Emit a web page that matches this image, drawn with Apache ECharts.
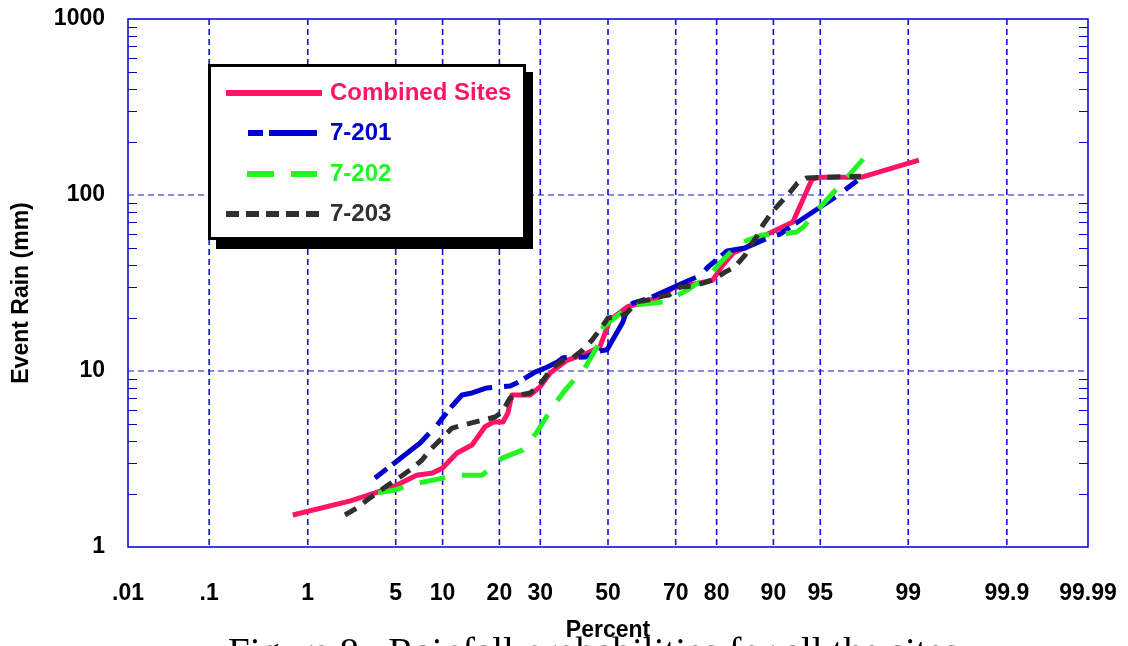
<!DOCTYPE html>
<html>
<head>
<meta charset="utf-8">
<script src="https://cdn.jsdelivr.net/npm/echarts@6/dist/echarts.min.js"></script>
<style>
  html, body { margin: 0; padding: 0; background: #ffffff; }
  #chart { width: 1128px; height: 646px; }
</style>
</head>
<body>
<div id="chart"></div>
<script>
// ---- Probability-axis ticks (percent) ----
const percentTicks = [0.01, 0.1, 1, 5, 10, 20, 30, 50, 70, 80, 90, 95, 99, 99.9, 99.99];
const percentTickLabels = ['.01', '.1', '1', '5', '10', '20', '30', '50', '70', '80', '90', '95', '99', '99.9', '99.99'];
const percentGridLines = [0.1, 1, 5, 10, 20, 30, 50, 70, 80, 90, 95, 99, 99.9];

// ---- Rain axis (log) ----
const rainMin = 1;
const rainMax = 1000;
const rainGridLines = [10, 100];
const rainMinorTicks = [2, 3, 4, 5, 6, 7, 8, 9, 20, 30, 40, 50, 60, 70, 80, 90, 200, 300, 400, 500, 600, 700, 800, 900];

// ---- Series: cumulative percent vs event rain (mm) ----
const combinedPct = [0.73, 2.3, 3.7, 5.1, 6.9, 8.7, 10.0, 12.1, 14.6, 17.0, 18.7, 20.8, 21.9, 22.8, 27.3, 29.9, 32.7, 37.5, 43.5, 47.5, 50.6, 55.9, 60.7, 65.6, 69.3, 76.2, 79.2, 81.3, 83.4, 85.9, 88.9, 92.4, 94.3, 95.0, 97.5, 99.2];
const combinedRain = [1.52, 1.83, 2.05, 2.25, 2.56, 2.63, 2.81, 3.42, 3.80, 4.81, 5.13, 5.13, 5.77, 7.31, 7.31, 8.11, 9.74, 11.5, 12.6, 13.7, 19.5, 23.1, 24.7, 26.3, 29.6, 31.6, 32.9, 40.0, 46.8, 50.7, 59.3, 70.3, 123, 126, 126, 158];

const site201Pct = [3.55, 4.42, 5.11, 7.27, 9.27, 11.35, 12.9, 14.6, 17.4, 22.4, 24.0, 28.6, 31.8, 34.6, 36.4, 42.9, 47.5, 49.7, 54.6, 56.2, 57.7, 62.8, 67.6, 73.7, 76.2, 78.1, 82.2, 85.6, 89.5, 90.9, 92.1, 96.2, 97.5];
const site201Rain = [2.47, 2.81, 3.08, 3.90, 4.93, 6.33, 7.31, 7.50, 8.01, 8.22, 8.55, 9.86, 10.5, 11.2, 11.9, 12.0, 13.0, 13.2, 19.0, 23.4, 24.3, 26.0, 28.8, 32.9, 34.7, 39.0, 48.1, 50.0, 57.7, 60.0, 65.8, 98.7, 125];

const site202Pct = [3.74, 4.95, 6.55, 9.40, 11.8, 16.5, 20.6, 25.5, 29.1, 33.2, 37.0, 42.9, 46.6, 48.5, 54.3, 57.7, 67.1, 73.0, 78.5, 81.1, 84.7, 88.4, 91.1, 92.8, 93.5, 95.0, 96.4, 97.6];
const site202Rain = [2.03, 2.11, 2.28, 2.43, 2.56, 2.56, 3.20, 3.56, 4.50, 6.16, 7.80, 10.4, 13.7, 17.8, 21.6, 23.7, 24.7, 28.8, 35.1, 42.2, 53.4, 59.3, 60.0, 61.6, 65.8, 85.5, 114, 160];

const site203Pct = [2.08, 2.60, 3.10, 3.7, 4.42, 5.36, 6.26, 7.48, 8.40, 9.93, 11.35, 13.1, 16.7, 19.1, 20.6, 22.4, 24.8, 27.3, 29.4, 31.8, 33.5, 36.4, 39.3, 42.3, 45.1, 48.1, 50.0, 53.1, 55.5, 58.9, 62.2, 64.8, 68.2, 71.2, 74.5, 76.9, 79.2, 81.8, 83.7, 85.6, 86.4, 87.6, 88.5, 89.8, 90.9, 92.1, 92.9, 93.8, 97.5];
const site203Rain = [1.52, 1.67, 1.85, 2.03, 2.25, 2.50, 2.74, 3.12, 3.56, 4.16, 4.74, 4.93, 5.27, 5.48, 5.85, 7.03, 7.31, 7.50, 8.11, 9.49, 10.5, 11.5, 11.9, 13.2, 15.0, 17.8, 20.0, 20.3, 21.1, 24.7, 25.3, 26.3, 27.0, 30.0, 30.4, 31.6, 32.9, 36.5, 39.0, 45.6, 50.7, 58.5, 67.5, 80.0, 90.1, 104, 117, 125, 128];

const seriesNames = ['Combined Sites', '7-201', '7-202', '7-203'];

// Inverse standard normal CDF (Acklam's rational approximation)
function probit(p) {
  const a = [-3.969683028665376e+01, 2.209460984245205e+02, -2.759285104469687e+02, 1.383577518672690e+02, -3.066479806614716e+01, 2.506628277459239e+00];
  const b = [-5.447609879822406e+01, 1.615858368580409e+02, -1.556989798598866e+02, 6.680131188771972e+01, -1.328068155288572e+01];
  const c = [-7.784894002430293e-03, -3.223964580411365e-01, -2.400758277161838e+00, -2.549732539343734e+00, 4.374664141464968e+00, 2.938163982698783e+00];
  const d = [7.784695709041462e-03, 3.224671290700398e-01, 2.445134137142996e+00, 3.754408661907416e+00];
  const pl = 0.02425, ph = 1 - pl;
  let q, r;
  if (p < pl) {
    q = Math.sqrt(-2 * Math.log(p));
    return (((((c[0] * q + c[1]) * q + c[2]) * q + c[3]) * q + c[4]) * q + c[5]) / ((((d[0] * q + d[1]) * q + d[2]) * q + d[3]) * q + 1);
  }
  if (p <= ph) {
    q = p - 0.5; r = q * q;
    return (((((a[0] * r + a[1]) * r + a[2]) * r + a[3]) * r + a[4]) * r + a[5]) * q / (((((b[0] * r + b[1]) * r + b[2]) * r + b[3]) * r + b[4]) * r + 1);
  }
  q = Math.sqrt(-2 * Math.log(1 - p));
  return -(((((c[0] * q + c[1]) * q + c[2]) * q + c[3]) * q + c[4]) * q + c[5]) / ((((d[0] * q + d[1]) * q + d[2]) * q + d[3]) * q + 1);
}
const pctToZ = pct => probit(pct / 100);
const tickZ = percentTicks.map(pctToZ);
const zMin = tickZ[0];
const zMax = tickZ[tickZ.length - 1];

const pairs = (pcts, rains) => pcts.map((p, i) => [pctToZ(p), rains[i]]);

const AXIS_BLUE = '#0000cc';
const GRID_BLUE = '#1010e0';
const FONT = "'Liberation Sans', Arial, sans-serif";
const COLORS = ['#ff1466', '#0000cc', '#22f522', '#303030'];

const chart = echarts.init(document.getElementById('chart'), null, { renderer: 'canvas' });

const yAxisBase = {
  type: 'log',
  logBase: 10,
  min: rainMin,
  max: rainMax,
  axisLine: { show: false, onZero: false },
  splitLine: { show: false },
  axisTick: {
    show: true,
    inside: true,
    length: 9,
    customValues: rainMinorTicks,
    lineStyle: { color: AXIS_BLUE, width: 1 }
  }
};

chart.setOption({
  animation: false,
  backgroundColor: '#ffffff',
  grid: {
    left: 128, right: 40, top: 19, bottom: 99,
    show: true,
    borderColor: AXIS_BLUE,
    borderWidth: 1.5,
    backgroundColor: 'transparent',
    outerBoundsMode: 'none'
  },
  xAxis: {
    type: 'value',
    min: zMin,
    max: zMax,
    axisLine: { show: false, onZero: false },
    axisTick: { show: false },
    splitLine: { show: false },
    axisLabel: {
      customValues: tickZ,
      margin: 35,
      fontSize: 23,
      fontWeight: 'bold',
      fontFamily: FONT,
      color: '#000000',
      formatter: v => {
        let best = 0;
        tickZ.forEach((z, i) => { if (Math.abs(z - v) < Math.abs(tickZ[best] - v)) best = i; });
        return percentTickLabels[best];
      }
    }
  },
  yAxis: [
    Object.assign({}, yAxisBase, {
      position: 'left',
      axisLabel: {
        show: true,
        margin: 23,
        fontSize: 23,
        fontWeight: 'bold',
        fontFamily: FONT,
        color: '#000000',
        formatter: v => String(Math.round(v))
      }
    }),
    Object.assign({}, yAxisBase, {
      position: 'right',
      axisLabel: { show: false }
    })
  ],
  series: [
    {
      // vertical dashed grid lines at the probability ticks
      name: 'grid-v',
      type: 'custom',
      silent: true,
      z: 1,
      clip: false,
      data: percentGridLines.map(p => [pctToZ(p), rainMin]),
      renderItem: (params, api) => {
        const top = api.coord([api.value(0), rainMax]);
        const bottom = api.coord([api.value(0), rainMin]);
        return {
          type: 'line',
          shape: { x1: top[0], y1: top[1], x2: top[0], y2: bottom[1] },
          style: { stroke: GRID_BLUE, lineWidth: 1.6, lineDash: [6, 4] }
        };
      }
    },
    {
      // horizontal dashed grid lines at the decades
      name: 'grid-h',
      type: 'custom',
      silent: true,
      z: 1,
      clip: false,
      data: rainGridLines.map(v => [0, v]),
      renderItem: (params, api) => {
        const left = api.coord([zMin, api.value(1)]);
        const right = api.coord([zMax, api.value(1)]);
        const y = left[1];
        return {
          type: 'line',
          shape: { x1: left[0], y1: y, x2: right[0], y2: y },
          style: { stroke: GRID_BLUE, opacity: 0.65, lineWidth: 1.5, lineDash: [6, 4] }
        };
      }
    },
    {
      name: seriesNames[0], type: 'line', z: 3,
      data: pairs(combinedPct, combinedRain),
      showSymbol: false, symbol: 'none',
      lineStyle: { color: COLORS[0], width: 5, type: 'solid', join: 'round' }
    },
    {
      name: seriesNames[1], type: 'line', z: 4,
      data: pairs(site201Pct, site201Rain),
      showSymbol: false, symbol: 'none',
      lineStyle: { color: COLORS[1], width: 5, type: [15, 7, 48, 12], join: 'round' }
    },
    {
      name: seriesNames[2], type: 'line', z: 5,
      data: pairs(site202Pct, site202Rain),
      showSymbol: false, symbol: 'none',
      lineStyle: { color: COLORS[2], width: 5, type: [26, 17], join: 'round' }
    },
    {
      name: seriesNames[3], type: 'line', z: 6,
      data: pairs(site203Pct, site203Rain),
      showSymbol: false, symbol: 'none',
      lineStyle: { color: COLORS[3], width: 5, type: [13, 9], join: 'round' }
    }
  ],
  graphic: [
    // legend box with drop shadow
    { type: 'rect', z: 100, shape: { x: 216, y: 72, width: 317, height: 177 }, style: { fill: '#000000' } },
    { type: 'rect', z: 101, shape: { x: 209.5, y: 65.5, width: 315, height: 173 }, style: { fill: '#ffffff', stroke: '#000000', lineWidth: 3 } },
    { type: 'line', z: 102, shape: { x1: 226, y1: 93, x2: 322, y2: 93 }, style: { stroke: COLORS[0], lineWidth: 6 } },
    { type: 'line', z: 102, shape: { x1: 248, y1: 133, x2: 317, y2: 133 }, style: { stroke: COLORS[1], lineWidth: 6, lineDash: [15, 6, 48, 6] } },
    { type: 'line', z: 102, shape: { x1: 247, y1: 174, x2: 317, y2: 174 }, style: { stroke: COLORS[2], lineWidth: 6, lineDash: [27, 17] } },
    { type: 'line', z: 102, shape: { x1: 226, y1: 214, x2: 322, y2: 214 }, style: { stroke: COLORS[3], lineWidth: 6, lineDash: [13, 7] } },
    { type: 'text', z: 102, style: { x: 330, y: 93, text: seriesNames[0], fill: COLORS[0], font: "bold 24px " + FONT, verticalAlign: 'middle' } },
    { type: 'text', z: 102, style: { x: 330, y: 133, text: seriesNames[1], fill: COLORS[1], font: "bold 24px " + FONT, verticalAlign: 'middle' } },
    { type: 'text', z: 102, style: { x: 330, y: 174, text: seriesNames[2], fill: COLORS[2], font: "bold 24px " + FONT, verticalAlign: 'middle' } },
    { type: 'text', z: 102, style: { x: 330, y: 214, text: seriesNames[3], fill: COLORS[3], font: "bold 24px " + FONT, verticalAlign: 'middle' } },
    // axis titles
    { type: 'text', z: 50, x: 22, y: 293, rotation: Math.PI / 2,
      style: { x: 0, y: 0, text: 'Event Rain (mm)', fill: '#000000', font: "bold 23px " + FONT, align: 'center', verticalAlign: 'middle' } },
    { type: 'text', z: 50, style: { x: 608, y: 631, text: 'Percent', fill: '#000000', font: "bold 23px " + FONT, align: 'center', verticalAlign: 'middle' } },
    // figure caption
    { type: 'text', z: 40, style: { x: 228, y: 655, text: 'Figure 8.  Rainfall probabilities for all the sites', fill: '#000000', font: "39px 'Liberation Serif', 'Times New Roman', serif", verticalAlign: 'middle' } }
  ]
});
</script>
</body>
</html>
